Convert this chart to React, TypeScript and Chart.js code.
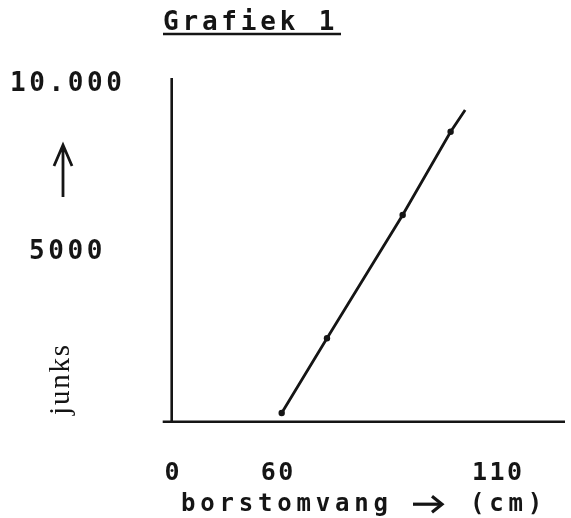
import React, { useEffect, useRef } from "react";
import { Chart, registerables } from "chart.js";

Chart.register(...registerables);

// ---- data ----
const borstomvang = [61.1, 71.4, 88.6, 99.5, 102.8];
const junks = [258, 2477, 6139, 8613, 9257];
const pointSizes = [3.2, 3.2, 3.2, 3.2, 0];

const yTickValues = [10000, 5000];
const yTickLabels = ["10.000", "5000"];
const xTickValues = [36.1, 60, 110];
const xTickLabels = ["0", "60", "110"];

const titleText = "Grafiek 1";
const yTitleText = "junks";
const xTitleWord = "borstomvang";
const xTitleUnit = "(cm)";

const X_MIN = 36.1;
const X_MAX = 125.5;
const Y_MIN = 0;
const Y_MAX = 10208;

const MONO = '"DejaVu Sans Mono", "Liberation Mono", monospace';
const SERIF = '"Liberation Serif", "DejaVu Serif", serif';
const INK = "#151515";

const decorPlugin = {
  id: "decor",
  afterDraw(chart: any) {
    const ctx: CanvasRenderingContext2D = chart.ctx;
    const { left, right, top, bottom } = chart.chartArea;
    const xs = chart.scales.x;
    const ys = chart.scales.y;
    ctx.save();
    ctx.strokeStyle = INK;
    ctx.fillStyle = INK;
    ctx.lineCap = "butt";

    // axes
    ctx.lineWidth = 2.6;
    ctx.beginPath();
    ctx.moveTo(left, top);
    ctx.lineTo(left, bottom);
    ctx.moveTo(left - 9, bottom);
    ctx.lineTo(right, bottom);
    ctx.stroke();

    // title
    ctx.font = `bold 26px ${MONO}`;
    (ctx as any).letterSpacing = "3.8px";
    ctx.textAlign = "left";
    ctx.textBaseline = "alphabetic";
    ctx.fillText(titleText, 163, 30);
    ctx.lineWidth = 2.5;
    ctx.beginPath();
    ctx.moveTo(163, 34);
    ctx.lineTo(341, 34);
    ctx.stroke();

    // y tick labels
    ctx.font = `bold 26px ${MONO}`;
    (ctx as any).letterSpacing = "3.6px";
    ctx.textAlign = "left";
    const yLabelX = [10, 29];
    yTickValues.forEach((v, i) => {
      const py = ys.getPixelForValue(v) - 4;
      ctx.fillText(yTickLabels[i], yLabelX[i], py + 9.5);
    });

    // up arrow
    const tipY = ys.getPixelForValue(10000) + 60;
    ctx.lineWidth = 2.8;
    ctx.beginPath();
    ctx.moveTo(63, tipY + 52);
    ctx.lineTo(63, tipY);
    ctx.moveTo(54, tipY + 21);
    ctx.lineTo(63, tipY);
    ctx.lineTo(72, tipY + 21);
    ctx.stroke();

    // y title (rotated)
    ctx.save();
    ctx.translate(61, 380);
    ctx.rotate(-Math.PI / 2);
    ctx.font = `29px ${SERIF}`;
    (ctx as any).letterSpacing = "1.8px";
    ctx.textAlign = "center";
    ctx.textBaseline = "middle";
    ctx.fillText(yTitleText, 1, 0);
    ctx.restore();

    // x tick labels
    ctx.font = `bold 25px ${MONO}`;
    (ctx as any).letterSpacing = "2.5px";
    ctx.textAlign = "center";
    ctx.textBaseline = "alphabetic";
    xTickValues.forEach((v, i) => {
      const px = xs.getPixelForValue(v);
      ctx.fillText(xTickLabels[i], px + 1.5, bottom + 58.5);
    });

    // x title
    ctx.font = `bold 24px ${MONO}`;
    (ctx as any).letterSpacing = "4.8px";
    ctx.textAlign = "left";
    const base = bottom + 89.5;
    ctx.fillText(xTitleWord, 181, base);
    ctx.fillText(xTitleUnit, 470, base);
    // arrow (open chevron head)
    const ay = base - 7;
    ctx.lineWidth = 3.2;
    ctx.lineJoin = "miter";
    ctx.beginPath();
    ctx.moveTo(413, ay);
    ctx.lineTo(441, ay);
    ctx.stroke();
    ctx.beginPath();
    ctx.moveTo(432, ay - 8);
    ctx.lineTo(442, ay);
    ctx.lineTo(432, ay + 8);
    ctx.stroke();

    ctx.restore();
  },
};

export default function App() {
  const ref = useRef<HTMLCanvasElement>(null);
  useEffect(() => {
    const chart = new Chart(ref.current as HTMLCanvasElement, {
      type: "line",
      data: {
        datasets: [
          {
            data: borstomvang.map((x, i) => ({ x, y: junks[i] })),
            borderColor: INK,
            borderWidth: 2.8,
            pointRadius: pointSizes,
            pointBackgroundColor: INK,
            pointBorderWidth: 0,
            tension: 0,
            fill: false,
          },
        ],
      },
      options: {
        responsive: false,
        animation: false,
        devicePixelRatio: 1,
        layout: { padding: { left: 171.7, right: 6, top: 78, bottom: 96.3 } },
        scales: {
          x: { type: "linear", display: false, min: X_MIN, max: X_MAX },
          y: { type: "linear", display: false, min: Y_MIN, max: Y_MAX },
        },
        plugins: {
          legend: { display: false },
          tooltip: { enabled: false },
        },
      },
      plugins: [decorPlugin],
    } as any);
    return () => chart.destroy();
  }, []);
  return (
    <div
      style={{
        position: "absolute",
        left: 0,
        top: 0,
        width: 571,
        height: 518,
        background: "#fff",
      }}
    >
      <canvas
        ref={ref}
        width={571}
        height={518}
        style={{ display: "block", width: 571, height: 518 }}
      />
    </div>
  );
}
